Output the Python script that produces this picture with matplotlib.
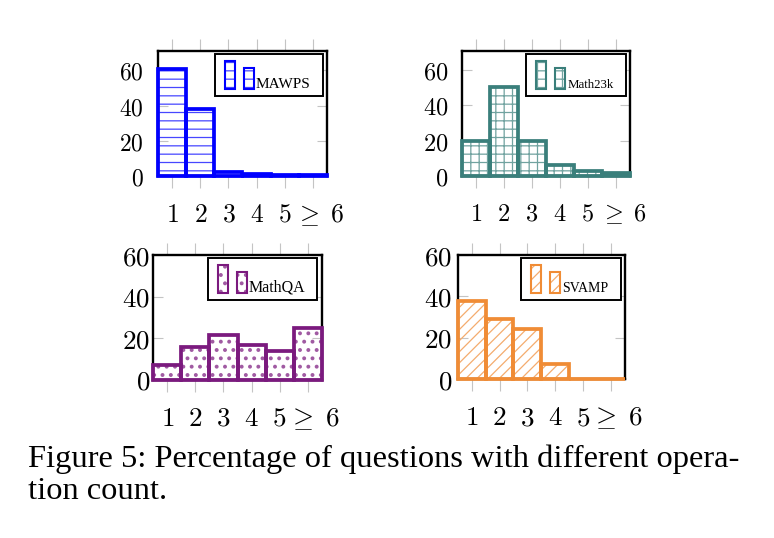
import matplotlib
matplotlib.use("Agg")
import matplotlib.pyplot as plt
from matplotlib.patches import Rectangle
from matplotlib.transforms import IdentityTransform, ScaledTranslation
import numpy as np

plt.rcParams['mathtext.fontset'] = 'cm'
plt.rcParams['hatch.linewidth'] = 0.9

# ---- data ----
op_counts = [1, 2, 3, 4, 5, 6]
tick_labels = [r'$1$', r'$2$', r'$3$', r'$4$', r'$5$', r'$\geq\;6$']
mawps = [61, 38, 2, 1, 0.5, 0.5]
math23k = [20, 50.5, 20, 6.5, 3, 1.5]
mathqa = [7, 16, 21.5, 17, 14, 25]
svamp = [38, 29, 24.5, 7.5, 0.3, 0.3]
y_ticks = [0, 20, 40, 60]

W, H = 774, 538
fig = plt.figure(figsize=(W / 100, H / 100), dpi=100)


def mix(c, f):
    c = np.array(matplotlib.colors.to_rgb(c))
    return tuple(c * f + (1 - f))


def px_axes(x0, y0, x1, y1):
    return fig.add_axes([x0 / W, 1 - y1 / H, (x1 - x0) / W, (y1 - y0) / H])


panels = [
    dict(name='MAWPS', vals=mawps, color='#0000ff', hatch='--', hlw=0.9, box=(158, 51, 327, 176),
         ymax=71, ysz=17, xsz=18.5, ypad=10.5, lsz=11, shift=7),
    dict(name='Math23k', vals=math23k, color='#3a7f7b', hatch='++', hlw=0.9, box=(461.7, 50.7, 630, 176),
         ymax=71, ysz=17.5, xsz=17.5, ypad=9.6, lsz=9.3, shift=7),
    dict(name='MathQA', vals=mathqa, color='#7b1a7e', hatch='..', hlw=1.6, box=(153.3, 255, 321.7, 380),
         ymax=60, ysz=19.5, xsz=19.5, ypad=2.2, lsz=11.5, shift=6),
    dict(name='SVAMP', vals=svamp, color='#f08c35', hatch='///', hlw=0.9, box=(457.7, 255, 625, 379.3),
         ymax=60, ysz=19.5, xsz=19.5, ypad=4.0, lsz=10, shift=6),
]

renderer = fig.canvas.get_renderer()
ident = IdentityTransform()

for p in panels:
    x0, y0, x1, y1 = p['box']
    ax = px_axes(x0, y0, x1, y1)
    col = p['color']
    light = mix(col, 0.72)
    # hatch layer
    with plt.rc_context({'hatch.linewidth': p['hlw']}):
        ax.bar(op_counts, p['vals'], width=1.0, facecolor='none', edgecolor=light,
               hatch=p['hatch'], linewidth=0, zorder=3, clip_on=False)
    # outline layer
    ax.bar(op_counts, p['vals'], width=1.0, facecolor='none', edgecolor=col,
           linewidth=2.7, zorder=4, clip_on=False)
    ax.set_xlim(0.5, 6.5)
    ax.set_ylim(0, p['ymax'])
    ax.set_xticks(op_counts)
    ax.set_xticklabels(tick_labels)
    ax.set_yticks(y_ticks)
    ax.set_yticklabels([r'$%d$' % v for v in y_ticks])
    ax.tick_params(axis='x', direction='out', length=8.6, width=0.8, color='#c4c4c4',
                   top=True, bottom=True, labelsize=p['xsz'], pad=10.0)
    ax.tick_params(axis='y', direction='in', length=7.5, width=0.8, color='#c4c4c4',
                   left=True, right=True, labelsize=p['ysz'], pad=p['ypad'])
    for s in ax.spines.values():
        s.set_linewidth(1.7)
        s.set_color('black')
    last = ax.get_xticklabels()[-1]
    last.set_transform(last.get_transform() + ScaledTranslation(p['shift'] / 100, 0, fig.dpi_scale_trans))

    # ---- legend (drawn in pixel coordinates) ----
    bx1 = x1 - 4.5
    btop = y0 + 3.3
    bbot = btop + 42

    def R(xa, ya, xb, yb, **kw):
        r = Rectangle((xa, H - yb), xb - xa, yb - ya, transform=ident, **kw)
        fig.add_artist(r)
        return r

    txt = fig.text(0, 0, p['name'], fontsize=p['lsz'], family='Liberation Serif',
                   transform=ident, va='baseline', ha='left', zorder=7)
    tw = txt.get_window_extent(renderer).width
    bw = 41 + tw + 12
    bx0 = bx1 - bw
    R(bx0, btop, bx1, bbot, facecolor='white', edgecolor='black', linewidth=1.4, zorder=5)
    pb = bbot - 7.5
    for (ox, top) in [(10, 7), (29, 14)]:
        with plt.rc_context({'hatch.linewidth': p['hlw']}):
            R(bx0 + ox, btop + top, bx0 + ox + 10, pb, facecolor='none', edgecolor=light,
              hatch=p['hatch'], linewidth=0, zorder=6)
        R(bx0 + ox, btop + top, bx0 + ox + 10, pb, facecolor='none', edgecolor=col,
          linewidth=1.5, zorder=6)
    txt.set_position((bx0 + 41, H - (pb - 1)))

fig.text(28 / W, 1 - 467 / H, 'Figure 5: Percentage of questions with different opera-',
         fontsize=23.4, family='Liberation Serif', va='baseline', ha='left')
fig.text(28 / W, 1 - 499 / H, 'tion count.',
         fontsize=23.4, family='Liberation Serif', va='baseline', ha='left')

fig.savefig('out.png', dpi=100)
